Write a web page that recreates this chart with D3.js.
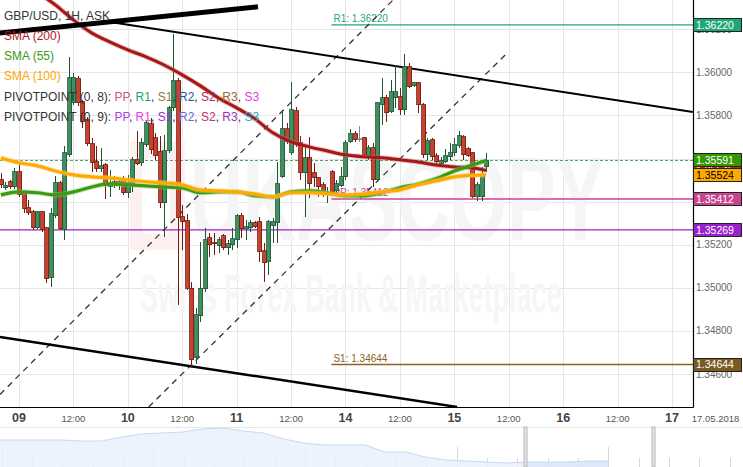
<!DOCTYPE html>
<html><head><meta charset="utf-8">
<script src="https://cdn.jsdelivr.net/npm/d3@7/dist/d3.min.js"></script>
<style>html,body{margin:0;padding:0;background:#fff;}svg{display:block;}</style>
</head><body>
<svg id="chart" width="743" height="467" font-family="'Liberation Sans', Arial, sans-serif"></svg>
<script>
// ---------- DATA ----------
// hourly candles, index 0 = 08 May 20:00 ... index 107 = 15 May 07:00
const opens = [1.35501,1.35464,1.35492,1.35468,1.35538,1.35436,1.35371,1.35352,1.35278,1.35352,
1.35278,1.35046,1.35334,1.35487,1.35269,1.35617,1.35858,1.35969,1.35863,1.35779,
1.35668,1.35584,1.35552,1.35570,1.35468,1.35492,1.35478,1.35506,1.35441,1.35478,
1.35594,1.35580,1.35663,1.35761,1.35696,1.35631,1.35394,1.35635,1.35835,1.35960,
1.35329,1.35311,1.34999,1.34675,1.34870,1.34995,1.35232,1.35208,1.35194,1.35241,
1.35185,1.35199,1.35222,1.35334,1.35273,1.35278,1.35301,1.35306,1.35171,1.35120,
1.35287,1.35301,1.35515,1.35737,1.35626,1.35821,1.35672,1.35533,1.35603,1.35533,
1.35510,1.35478,1.35431,1.35538,1.35450,1.35473,1.35515,1.35677,1.35714,1.35691,
1.35696,1.35603,1.35649,1.35501,1.35849,1.35881,1.35816,1.35881,1.35886,1.35826,
1.36025,1.35937,1.35951,1.35849,1.35617,1.35686,1.35612,1.35575,1.35584,1.35608,
1.35626,1.35659,1.35700,1.35645,1.35626,1.35422,1.35422,1.35561];
const highs = [1.35533,1.35492,1.35501,1.35556,1.35580,1.35445,1.35408,1.35362,1.35357,1.35357,
1.35283,1.35371,1.35519,1.35496,1.35659,1.36072,1.35997,1.35983,1.35872,1.35793,
1.35696,1.35659,1.35649,1.35580,1.35547,1.35519,1.35510,1.35519,1.35524,1.35608,
1.35728,1.35696,1.35779,1.35788,1.35719,1.35705,1.35710,1.35844,1.36178,1.35974,
1.35385,1.35343,1.35027,1.34907,1.35213,1.35278,1.35255,1.35255,1.35236,1.35250,
1.35222,1.35278,1.35343,1.35348,1.35315,1.35315,1.35311,1.35329,1.35208,1.35315,
1.35324,1.35584,1.35826,1.35765,1.35956,1.35839,1.35705,1.35654,1.35700,1.35580,
1.35515,1.35492,1.35468,1.35547,1.35501,1.35561,1.35686,1.35737,1.35728,1.35751,
1.35700,1.35663,1.35672,1.35863,1.35974,1.35895,1.35965,1.36034,1.35928,1.36085,
1.36044,1.35956,1.35956,1.35858,1.35696,1.35696,1.35626,1.35608,1.35645,1.35672,
1.35696,1.35728,1.35710,1.35654,1.35631,1.35492,1.35561,1.35626];
const lows = [1.35464,1.35454,1.35459,1.35459,1.35422,1.35348,1.35338,1.35269,1.35273,1.35260,
1.35023,1.35004,1.35324,1.35269,1.35222,1.35608,1.35849,1.35844,1.35742,1.35659,
1.35538,1.35538,1.35538,1.35413,1.35422,1.35464,1.35454,1.35431,1.35417,1.35445,
1.35570,1.35566,1.35654,1.35621,1.35594,1.35371,1.35236,1.35626,1.35821,1.34921,
1.35176,1.34990,1.34628,1.34647,1.34842,1.34981,1.35144,1.35153,1.35162,1.35176,
1.35153,1.35176,1.35185,1.35232,1.35222,1.35260,1.35278,1.35120,1.35027,1.35060,
1.35208,1.35208,1.35510,1.35668,1.35617,1.35654,1.35501,1.35329,1.35417,1.35468,
1.35422,1.35422,1.35394,1.35441,1.35441,1.35468,1.35501,1.35672,1.35677,1.35677,
1.35608,1.35594,1.35468,1.35492,1.35756,1.35770,1.35812,1.35835,1.35802,1.35802,
1.35928,1.35932,1.35812,1.35603,1.35594,1.35594,1.35570,1.35566,1.35580,1.35594,
1.35612,1.35649,1.35594,1.35608,1.35417,1.35403,1.35403,1.35538];
const closes = [1.35478,1.35473,1.35468,1.35538,1.35431,1.35366,1.35348,1.35278,1.35352,1.35269,
1.35041,1.35343,1.35487,1.35273,1.35626,1.35974,1.35974,1.35858,1.35770,1.35668,
1.35580,1.35552,1.35566,1.35473,1.35487,1.35478,1.35492,1.35441,1.35487,1.35594,
1.35575,1.35672,1.35765,1.35640,1.35612,1.35394,1.35635,1.35835,1.35960,1.35324,
1.35306,1.34999,1.34666,1.34874,1.34999,1.35222,1.35199,1.35204,1.35222,1.35185,
1.35204,1.35227,1.35334,1.35273,1.35283,1.35301,1.35283,1.35167,1.35116,1.35306,
1.35306,1.35482,1.35737,1.35677,1.35826,1.35668,1.35533,1.35603,1.35482,1.35510,
1.35468,1.35445,1.35436,1.35445,1.35482,1.35515,1.35672,1.35714,1.35686,1.35691,
1.35617,1.35649,1.35501,1.35858,1.35881,1.35812,1.35909,1.35909,1.35826,1.36025,
1.35932,1.35951,1.35849,1.35617,1.35682,1.35608,1.35584,1.35589,1.35612,1.35626,
1.35663,1.35705,1.35617,1.35612,1.35422,1.35478,1.35519,1.35591];

// moving averages, sampled at candle indices
const smaIdx = [0,4,8,12,16,20,24,28,32,36,40,44,48,52,56,60,64,68,72,76,80,84,88,92,96,100,104,107];
const sma200 = [1.36512,1.36438,1.36373,1.36313,1.36243,1.36183,1.36141,1.36104,1.36072,1.36034,1.35988,1.35937,1.35881,1.35835,1.35784,1.35719,1.35677,1.35654,1.35635,1.35617,1.35608,1.35603,1.35594,1.35584,1.35570,1.35561,1.35556,1.35545];
const sma55 = [1.35431,1.35445,1.35441,1.35431,1.35445,1.35468,1.35482,1.35478,1.35473,1.35468,1.35464,1.35441,1.35445,1.35445,1.35427,1.35422,1.35445,1.35450,1.35441,1.35427,1.35427,1.35441,1.35464,1.35482,1.35506,1.35542,1.35570,1.35591];
const sma100 = [1.35603,1.35580,1.35566,1.35542,1.35524,1.35515,1.35510,1.35501,1.35492,1.35487,1.35478,1.35454,1.35450,1.35445,1.35436,1.35422,1.35441,1.35441,1.35436,1.35431,1.35436,1.35445,1.35454,1.35478,1.35496,1.35515,1.35522,1.35524];

// price axis (labels fully hidden by value tags are not drawn)
const priceTicks = [1.346,1.348,1.350,1.352,1.354,1.356,1.358,1.360,1.362];
const priceLabelTicks = [1.346,1.348,1.350,1.352,1.358,1.360,1.362];
// time axis
const timeTickIdx = [4,16,28,40,52,64,76,88,100,112,124,136,148];
const timeTickLabels = ["09","12:00","10","12:00","11","12:00","14","12:00","15","12:00","16","12:00","17"];
const dateLabel = "17.05.2018";

// pivot levels (start at new week)
const pivotStart = 72.9;
const pivotNames = ["R1","PP","S1"];
const pivotValues = [1.36220,1.35412,1.34644];
const pivotColors = ["#1fa877","#c8448c","#8a6420"];

// horizontal level lines across chart
const levelValues = [1.35269, 1.35591];

// drawn trend lines [index, price]
const trendThick = [[-0.2,1.36182],[56.7,1.36304]];
const channelTop = [[24.1,1.36233],[152.6,1.35816]];
const channelBottom = [[-0.2,1.34772],[100.6,1.34447]];
const dashA = [[32.6,1.34447],[111.2,1.36080]];
const dashB = [[-0.2,1.34505],[86.5,1.36336]];

// right-side value tags
const tagValues = [1.34644,1.35269,1.35412,1.35545,1.35524,1.35591,1.36220];
const tagFill = ["#7b5b20","#9a22cc","#c8448c","#cc2020","#ffaa00","#339900","#1fa877"];
const tagText = ["#fff","#fff","#fff","#fff","#000","#fff","#fff"];

// navigator history (long-term)
const navValues = [1.4075,1.4075,1.4075,1.4075,1.405,1.405,1.415,1.4225,1.425,1.4275,1.435,1.4375,1.43,1.425,1.41,1.40,1.395,1.395,1.395,1.3775,1.3775,1.365,1.3575,1.355,1.3525,1.35,1.3525,1.3525,1.3525,1.355,1.355];
const navWindow = [25.9, 32.2];
const navTickStart = 0.084, navTickStep = 1.4963;

// ---------- CHART ----------
const PW = 693, PH = 407;
const x = d3.scaleLinear().domain([0,148]).range([0.86,672]);
const y = d3.scaleLinear().domain([1.346,1.362]).range([374.0,29.2]);
const svg = d3.select("#chart");
const defs = svg.append("defs");
defs.append("clipPath").attr("id","clip")
  .append("rect").attr("x",0).attr("y",0).attr("width",PW).attr("height",PH);

// grid
const grid = svg.append("g").attr("shape-rendering","crispEdges");
grid.selectAll("line.h").data(priceTicks).join("line")
  .attr("x1",0).attr("x2",PW).attr("y1",d=>Math.round(y(d))).attr("y2",d=>Math.round(y(d)))
  .attr("stroke","#e6e6e6");
grid.selectAll("line.v").data(timeTickIdx).join("line")
  .attr("x1",d=>Math.round(x(d))).attr("x2",d=>Math.round(x(d))).attr("y1",0).attr("y2",PH)
  .attr("stroke","#e6e6e6");

const plot = svg.append("g").attr("clip-path","url(#clip)");

// watermark
const wm = plot.append("g");
wm.append("rect").attr("x",130).attr("y",141).attr("width",55).attr("height",109).attr("fill","#fdf0f1");
wm.append("rect").attr("x",142).attr("y",158).attr("width",28).attr("height",76).attr("rx",6).attr("fill","#fff");
wm.append("text").attr("transform","translate(190,240) scale(0.62,1)").attr("font-size",118).attr("font-weight","bold")
  .attr("fill","#f5f5f5").text("UKASCOPY");
wm.append("text").attr("transform","translate(140,312) scale(0.5,1)").attr("font-size",54).attr("font-weight","bold")
  .attr("fill","#f6f6f6").text("Swiss Forex Bank & Marketplace");

// level lines
plot.append("line").attr("x1",0).attr("x2",PW).attr("y1",y(levelValues[0])).attr("y2",y(levelValues[0]))
  .attr("stroke","#9a22cc").attr("stroke-width",1.3);
plot.append("line").attr("x1",0).attr("x2",PW).attr("y1",y(levelValues[1])).attr("y2",y(levelValues[1]))
  .attr("stroke","#4f9a68").attr("stroke-width",1).attr("stroke-dasharray","3,2");

// pivots
pivotValues.forEach((v,k)=>{
  plot.append("line").attr("x1",x(pivotStart)).attr("x2",PW).attr("y1",y(v)).attr("y2",y(v))
    .attr("stroke",pivotColors[k]).attr("stroke-width",k===0?1.2:1.5);
  plot.append("text").attr("x",x(pivotStart)+2).attr("y",y(v)-3).attr("font-size",10)
    .attr("fill",pivotColors[k]).text(pivotNames[k]+": "+v.toFixed(5));
});

// trend lines
const seg = (pts, w, dash) => {
  const l = plot.append("line").attr("x1",x(pts[0][0])).attr("y1",y(pts[0][1]))
    .attr("x2",x(pts[1][0])).attr("y2",y(pts[1][1])).attr("stroke", dash? "#333":"#000").attr("stroke-width",w);
  if (dash) l.attr("stroke-dasharray",dash);
};
seg(dashA,1.3,"6,5");
seg(dashB,1.3,"6,5");
seg(channelTop,2);
seg(channelBottom,2.5);

// candles
const candles = opens.map((o,i)=>({i,o,h:highs[i],l:lows[i],c:closes[i]}));
const cg = plot.append("g").attr("shape-rendering","crispEdges");
const colUp = "#3f8f5f", edgeUp = "#1f5535", colDn = "#c8402e", edgeDn = "#701a10";
const edge = d => d.c>d.o?edgeUp:(d.c<d.o?edgeDn:"#888");
cg.selectAll("line.w").data(candles).join("line")
  .attr("x1",d=>Math.round(x(d.i))+0.5).attr("x2",d=>Math.round(x(d.i))+0.5)
  .attr("y1",d=>y(d.h)).attr("y2",d=>y(d.l)).attr("stroke",edge).attr("stroke-width",1);
cg.selectAll("rect.b").data(candles).join("rect")
  .attr("x",d=>Math.round(x(d.i))-1.5).attr("width",4)
  .attr("y",d=>y(Math.max(d.o,d.c))).attr("height",d=>Math.max(1,Math.abs(y(d.o)-y(d.c))))
  .attr("fill",d=>d.c>d.o?colUp:(d.c<d.o?colDn:"#999")).attr("stroke",edge).attr("stroke-width",0.8);

// SMAs
const lg = d3.line().x(d=>x(d[0])).y(d=>y(d[1])).curve(d3.curveMonotoneX);
const drawSma = (vals, col, halo, w) => {
  const pts = smaIdx.map((ix,k)=>[ix, vals[k]]);
  plot.append("path").attr("d",lg(pts)).attr("fill","none").attr("stroke",halo).attr("stroke-width",w+2).attr("stroke-opacity",0.45);
  plot.append("path").attr("d",lg(pts)).attr("fill","none").attr("stroke",col).attr("stroke-width",w).attr("stroke-linejoin","round");
};
drawSma(sma200,"#a51818","#d07070",3);
drawSma(sma55,"#3a9a12","#8ccb70",3.2);
drawSma(sma100,"#ffaa00","#ffd070",3.2);

seg(trendThick,5);

// borders
svg.append("line").attr("x1",0).attr("x2",PW+0.5).attr("y1",PH+0.5).attr("y2",PH+0.5).attr("stroke","#000").attr("stroke-width",1.2);
svg.append("line").attr("x1",PW+0.5).attr("x2",PW+0.5).attr("y1",0).attr("y2",PH+0.5).attr("stroke","#000").attr("stroke-width",1.2);

// price labels
svg.append("g").selectAll("text").data(priceLabelTicks).join("text")
  .attr("x",696).attr("y",d=>y(d)).attr("dy","0.35em").attr("font-size",10).attr("fill","#666")
  .text(d=>d.toFixed(5));

// tags
tagValues.forEach((v,k)=>{
  const g = svg.append("g");
  g.append("rect").attr("x",693.5).attr("y",Math.round(y(v))-6.5).attr("width",48).attr("height",13)
    .attr("fill",tagFill[k]).attr("stroke","#222").attr("stroke-width",1);
  g.append("text").attr("x",696).attr("y",y(v)).attr("dy","0.36em").attr("font-size",10.5)
    .attr("fill",tagText[k]).text(v.toFixed(5));
});

// time axis labels
svg.append("g").selectAll("text").data(timeTickIdx).join("text")
  .attr("x",d=>x(d)).attr("y",422).attr("text-anchor","middle")
  .attr("font-size",(d,k)=>timeTickLabels[k].includes(":")?9.5:12.5)
  .attr("font-weight",(d,k)=>timeTickLabels[k].includes(":")?"normal":"bold")
  .attr("fill",(d,k)=>timeTickLabels[k].includes(":")?"#555":"#444")
  .text((d,k)=>timeTickLabels[k]);
svg.append("text").attr("x",715.5).attr("y",422).attr("text-anchor","middle").attr("font-size",9.5)
  .attr("fill","#555").text(dateLabel);

// navigator
svg.append("line").attr("x1",0).attr("x2",743).attr("y1",427.5).attr("y2",427.5).attr("stroke","#e8e8e8");
const nx = d3.scaleLinear().domain([0,36.66]).range([0,743]);
const ny = d3.scaleLinear().domain([1.34,1.44]).range([467,427]);
const navTicks = d3.range(0,25).map(j=>({v:navTickStart+navTickStep*j, tall:j%5===0}));
svg.append("g").attr("shape-rendering","crispEdges").selectAll("line").data(navTicks).join("line")
  .attr("x1",d=>Math.round(nx(d.v))).attr("x2",d=>Math.round(nx(d.v)))
  .attr("y1",d=>d.tall?447:458).attr("y2",467).attr("stroke","#d8d8d8");
const navPts = navValues.map((v,k)=>[k,v]);
svg.append("path").attr("d",d3.area().x(d=>nx(d[0])).y0(467).y1(d=>ny(d[1]))(navPts))
  .attr("fill","#e9f1fc").attr("fill-opacity",0.85);
defs.append("clipPath").attr("id","navwin").append("rect")
  .attr("x",nx(navWindow[0])).attr("y",420).attr("width",nx(navWindow[1])-nx(navWindow[0])).attr("height",50);
svg.append("path").attr("d",d3.area().x(d=>nx(d[0])).y0(467).y1(d=>ny(d[1]))(navPts))
  .attr("fill","#d3e3f8").attr("fill-opacity",0.6).attr("clip-path","url(#navwin)");
svg.append("path").attr("d",d3.line().x(d=>nx(d[0])).y(d=>ny(d[1]))(navPts))
  .attr("fill","none").attr("stroke","#c6daf3").attr("stroke-width",1);
navWindow.forEach(w=>{
  svg.append("rect").attr("x",Math.round(nx(w))-1).attr("y",427).attr("width",3).attr("height",40)
    .attr("fill","#e4e4e4").attr("stroke","#aaa").attr("stroke-width",0.8);
});

// legend
const leg = svg.append("g").attr("font-size",12);
leg.append("text").attr("x",4).attr("y",19.5).attr("fill","#333").text("GBP/USD, 1H, ASK");
leg.append("text").attr("x",4).attr("y",39.5).attr("fill","#b01818").text("SMA (200)");
leg.append("text").attr("x",4).attr("y",60).attr("fill","#3a9a12").text("SMA (55)");
leg.append("text").attr("x",4).attr("y",80).attr("fill","#ffa500").text("SMA (100)");
const pivLeg = (yy, label, names, cols) => {
  const t = leg.append("text").attr("x",4).attr("y",yy).attr("fill","#333");
  t.append("tspan").text(label);
  names.forEach((n,k)=>{
    t.append("tspan").attr("fill",cols[k]).text(n);
    if (k<names.length-1) t.append("tspan").attr("fill","#333").text(", ");
  });
};
const pnames = ["PP","R1","S1","R2","S2","R3","S3"];
pivLeg(101,"PIVOTPOINT (0, 8): ",pnames,["#d0508c","#1fa070","#9a7535","#2d4f9e","#a83060","#9a6a30","#d848d8"]);
pivLeg(120.5,"PIVOTPOINT (0, 9): ",pnames,["#b040e0","#ee40ee","#a030cc","#6a6ad0","#c83070","#a030b0","#30a8c8"]);
</script>
</body></html>
